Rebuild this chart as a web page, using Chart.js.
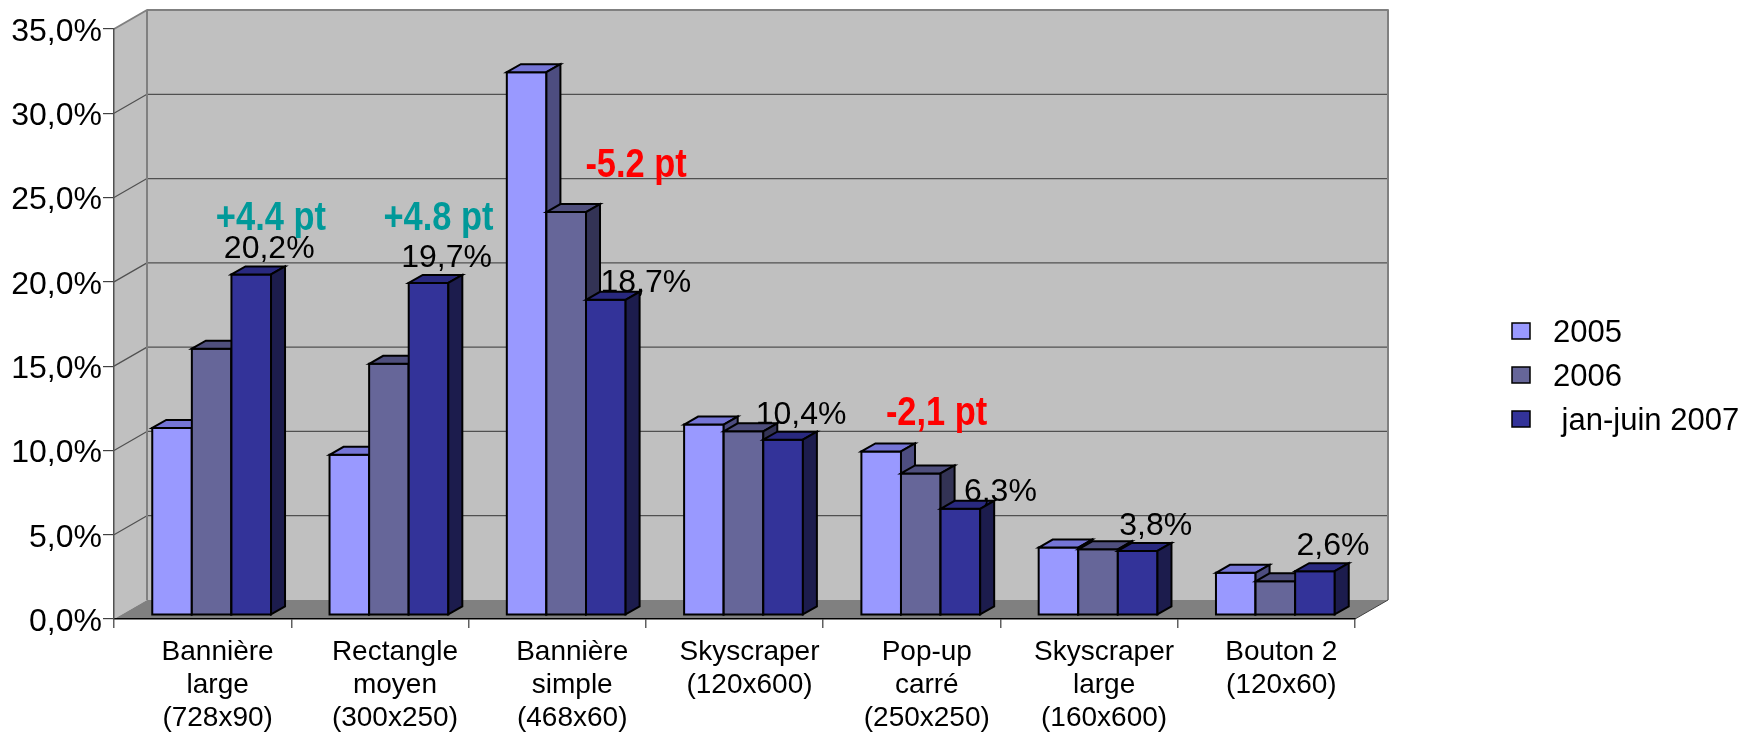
<!DOCTYPE html>
<html>
<head>
<meta charset="UTF-8">
<title>Formats publicitaires</title>
<script src="https://cdn.jsdelivr.net/npm/chart.js@4/dist/chart.umd.min.js"></script>
<style>
  body { margin: 0; background: #fff; }
</style>
</head>
<body>
<canvas id="myChart" width="1760" height="735"></canvas>
<script>
// categories (multi-line labels)
var categories = [
  ['Bannière', 'large', '(728x90)'],
  ['Rectangle', 'moyen', '(300x250)'],
  ['Bannière', 'simple', '(468x60)'],
  ['Skyscraper', '(120x600)'],
  ['Pop-up', 'carré', '(250x250)'],
  ['Skyscraper', 'large', '(160x600)'],
  ['Bouton 2', '(120x60)']
];
var seriesNames = ['2005', '2006', ' jan-juin 2007'];
var values2005 = [11.1, 9.5, 32.2, 11.3, 9.7, 4.0, 2.5];
var values2006 = [15.8, 14.9, 23.9, 10.9, 8.4, 3.9, 2.0];
var values2007 = [20.2, 19.7, 18.7, 10.4, 6.3, 3.8, 2.6];
var yTicks = [0, 5, 10, 15, 20, 25, 30, 35];

// evolution notes: category index, offset inside the category, level on the value axis
var notes = [
  { text: '+4.4 pt', cat: 0, at: 0.385, level: 23.1, color: '#009999' },
  { text: '+4.8 pt', cat: 1, at: 0.33, level: 23.1, color: '#009999' },
  { text: '-5.2 pt', cat: 2, at: 0.445, level: 26.2, color: '#ff0000' },
  { text: '-2,1 pt', cat: 4, at: 0.14, level: 11.5, color: '#ff0000' }
];

var FONT = '"Liberation Sans", Arial, sans-serif';
var depth = { dx: 33, dy: -19 };      // wall depth
var barDepth = { dx: 14, dy: -8 };    // bar extrusion
var barShift = { dx: 9, dy: -4 };     // bars sit a bit behind the front plane
var faces = [
  { front: '#9999ff', top: '#7575d6', side: '#4d4d80' },
  { front: '#666699', top: '#4f4f7d', side: '#333355' },
  { front: '#333399', top: '#29297f', side: '#1c1c4d' }
];

function pct(v) { return v.toFixed(1).replace('.', ',') + '%'; }

function poly(ctx, pts, fill, stroke, lw) {
  ctx.beginPath();
  ctx.moveTo(pts[0][0], pts[0][1]);
  for (var i = 1; i < pts.length; i++) ctx.lineTo(pts[i][0], pts[i][1]);
  ctx.closePath();
  if (fill) { ctx.fillStyle = fill; ctx.fill(); }
  if (stroke) { ctx.strokeStyle = stroke; ctx.lineWidth = lw || 1; ctx.stroke(); }
}

var walls = {
  id: 'walls',
  beforeDraw: function (chart) {
    var ctx = chart.ctx, a = chart.chartArea, y = chart.scales.y;
    var L = a.left, R = a.right, T = a.top, B = a.bottom, dx = depth.dx, dy = depth.dy;
    ctx.save();
    ctx.lineJoin = 'round';
    // left wall
    poly(ctx, [[L, T], [L + dx, T + dy], [L + dx, B + dy], [L, B]], '#c0c0c0');
    // back wall
    poly(ctx, [[L + dx, T + dy], [R + dx, T + dy], [R + dx, B + dy], [L + dx, B + dy]], '#c0c0c0');
    // floor
    poly(ctx, [[L, B], [L + dx, B + dy], [R + dx, B + dy], [R, B]], '#808080');
    // grid lines on back wall + diagonals on left wall
    ctx.strokeStyle = '#505050';
    ctx.lineWidth = 1.2;
    yTicks.forEach(function (v) {
      if (v === 0 || v === 35) return;
      var py = y.getPixelForValue(v);
      ctx.beginPath();
      ctx.moveTo(L, py);
      ctx.lineTo(L + dx, py + dy);
      ctx.lineTo(R + dx, py + dy);
      ctx.stroke();
    });
    // outline
    ctx.strokeStyle = '#808080';
    ctx.lineWidth = 2;
    ctx.beginPath();
    ctx.moveTo(L, T);
    ctx.lineTo(L + dx, T + dy);
    ctx.lineTo(R + dx, T + dy);
    ctx.lineTo(R + dx, B + dy);
    ctx.moveTo(L + dx, T + dy);
    ctx.lineTo(L + dx, B + dy);
    ctx.stroke();
    ctx.strokeStyle = '#404040';
    ctx.lineWidth = 1;
    ctx.beginPath();
    ctx.moveTo(R, B);
    ctx.lineTo(R + dx, B + dy);
    ctx.stroke();
    ctx.restore();
  }
};

var bars3d = {
  id: 'bars3d',
  beforeDatasetsDraw: function (chart) {
    var ctx = chart.ctx;
    ctx.save();
    ctx.lineJoin = 'miter';
    ctx.lineWidth = 2;
    for (var i = 0; i < categories.length; i++) {
      chart.data.datasets.forEach(function (ds, d) {
        var el = chart.getDatasetMeta(d).data[i];
        var p = el.getProps(['x', 'y', 'base', 'width'], true);
        var l = p.x - p.width / 2 + barShift.dx, r = p.x + p.width / 2 + barShift.dx;
        var t = p.y + barShift.dy, b = p.base + barShift.dy;
        var f = faces[d], ex = barDepth.dx, ey = barDepth.dy;
        poly(ctx, [[l, t], [r, t], [r, b], [l, b]], f.front, '#000', 2);
        poly(ctx, [[l, t], [l + ex, t + ey], [r + ex, t + ey], [r, t]], f.top, '#000', 2);
        poly(ctx, [[r, t], [r + ex, t + ey], [r + ex, b + ey], [r, b]], f.side, '#000', 2);
      });
    }
    ctx.restore();
    return false;
  }
};

var labels = {
  id: 'labels',
  afterDraw: function (chart) {
    var ctx = chart.ctx, xs = chart.scales.x, ys = chart.scales.y;
    ctx.save();
    // value labels on last series
    ctx.font = '32px ' + FONT;
    ctx.fillStyle = '#000';
    ctx.textAlign = 'center';
    ctx.textBaseline = 'alphabetic';
    var meta = chart.getDatasetMeta(2);
    values2007.forEach(function (v, i) {
      var p = meta.data[i].getProps(['x', 'y'], true);
      var hidden = values2006[i] - v > 1;
      var lx = p.x + barShift.dx + (hidden ? 40 : 18);
      var ly = p.y + barShift.dy - (hidden ? 8 : 16);
      ctx.fillText(pct(v), lx, ly);
    });
    // evolution notes (narrow bold)
    notes.forEach(function (n) {
      var px = xs.getPixelForValue(n.cat + n.at);
      var py = ys.getPixelForValue(n.level);
      ctx.save();
      ctx.translate(px, py);
      ctx.scale(0.84, 1);
      ctx.font = 'bold 41px ' + FONT;
      ctx.fillStyle = n.color;
      ctx.fillText(n.text, 0, 0);
      ctx.restore();
    });
    // legend
    ctx.font = '31px ' + FONT;
    ctx.textAlign = 'left';
    ctx.textBaseline = 'middle';
    chart.data.datasets.forEach(function (ds, d) {
      var cy = 331 + d * 44;
      ctx.fillStyle = ds.backgroundColor;
      ctx.fillRect(1512, cy - 8, 18, 16);
      ctx.strokeStyle = '#000';
      ctx.lineWidth = 1.5;
      ctx.strokeRect(1512, cy - 8, 18, 16);
      ctx.fillStyle = '#000';
      ctx.fillText(ds.label, 1553, cy + 2);
    });
    ctx.restore();
  }
};

var ctx = document.getElementById('myChart').getContext('2d');
var chart = new Chart(ctx, {
  type: 'bar',
  data: {
    labels: categories,
    datasets: [
      { label: seriesNames[0], data: values2005, backgroundColor: faces[0].front },
      { label: seriesNames[1], data: values2006, backgroundColor: faces[1].front },
      { label: seriesNames[2], data: values2007, backgroundColor: faces[2].front }
    ]
  },
  options: {
    responsive: false,
    animation: false,
    layout: { padding: { left: 0, top: 29, right: 405, bottom: 0 } },
    datasets: { bar: { categoryPercentage: 0.67, barPercentage: 1 } },
    plugins: { legend: { display: false }, tooltip: { enabled: false } },
    scales: {
      x: {
        grid: { offset: true, drawOnChartArea: false, tickLength: 9, color: '#606060', lineWidth: 1.5 },
        border: { color: '#000', width: 1.5 },
        ticks: {
          color: '#000', font: { family: FONT, size: 28, lineHeight: 1.17 },
          labelOffset: 15, padding: 8, maxRotation: 0, autoSkip: false
        },
        afterFit: function (s) { s.height = 116; }
      },
      y: {
        min: 0, max: 35,
        grid: { drawOnChartArea: false, tickLength: 11, color: '#404040', lineWidth: 1.2 },
        border: { color: '#505050', width: 1.5 },
        ticks: {
          stepSize: 5, color: '#000', padding: 1, labelOffset: 3,
          font: { family: FONT, size: 32 },
          callback: function (v) { return pct(v); }
        },
        afterFit: function (s) { s.width = 114; }
      }
    }
  },
  plugins: [walls, bars3d, labels]
});
</script>
</body>
</html>
